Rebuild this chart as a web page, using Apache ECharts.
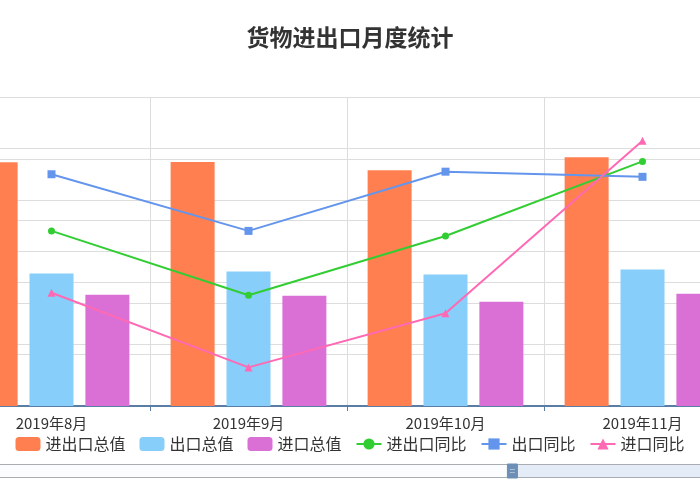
<!DOCTYPE html>
<html>
<head>
<meta charset="utf-8">
<title>货物进出口月度统计</title>
<script src="https://cdn.jsdelivr.net/npm/echarts@6/dist/echarts.min.js"></script>
<style>
  html, body { margin: 0; padding: 0; background: #fff; }
  #main { width: 700px; height: 500px; }
</style>
</head>
<body>
<div id="main"></div>
<script>
// 月份
var months = ['2019年8月', '2019年9月', '2019年10月', '2019年11月'];
// 总值(亿美元)
var totalValue = [3945, 3950, 3815, 4025];
var exportValue = [2143, 2175, 2127, 2208];
var importValue = [1802, 1786, 1688, 1818];
// 同比(%)
var totalYoy = [-3.2, -5.7, -3.4, -0.5];
var exportYoy = [-1.0, -3.2, -0.9, -1.1];
var importYoy = [-5.6, -8.5, -6.4, 0.3];

var chart = echarts.init(document.getElementById('main'));

// 滑块手柄
var handle = 'path://M0,0H10V14H0Z M2,4.5V6H8V4.5Z M2,8V9.5H8V8Z';

var option = {
    animation: false,
    textStyle: { fontFamily: 'Noto Sans CJK SC' },
    color: ['#ff7f50', '#87cefa', '#da70d6', '#32cd32', '#6495ed', '#ff69b4'],
    title: {
        text: '货物进出口月度统计',
        left: 'center',
        top: 21,
        textStyle: { fontSize: 23, fontWeight: 'bold', color: '#333' }
    },
    legend: {
        bottom: 43,
        left: 'center',
        itemWidth: 25,
        itemHeight: 14,
        itemGap: 14,
        textStyle: { fontSize: 16, color: '#333' },
        data: ['进出口总值', '出口总值', '进口总值', '进出口同比', '出口同比', '进口同比']
    },
    grid: { left: -47, right: -41, top: 97, bottom: 94, outerBoundsMode: 'none' },
    xAxis: [{
        type: 'category',
        data: months,
        axisLine: { lineStyle: { color: '#5a7da6', width: 2 } },
        axisTick: { show: true, length: 5, lineStyle: { color: '#5a7da6' } },
        axisLabel: { fontSize: 15, color: '#333', margin: 10 },
        splitLine: { show: true, lineStyle: { color: '#ddd' } }
    }, {
        // 只给滑块用
        type: 'value', show: false, min: 0, max: 100
    }],
    yAxis: [{
        type: 'value',
        min: 0, max: 5000, interval: 1000,
        axisLabel: { show: false },
        axisLine: { show: false },
        splitLine: { lineStyle: { color: '#ddd' } }
    }, {
        type: 'value',
        min: -10, max: 2, interval: 2,
        axisLabel: { show: false },
        axisLine: { show: false },
        splitLine: { lineStyle: { color: '#ddd' } }
    }],
    dataZoom: [{
        type: 'slider',
        xAxisIndex: 1,
        start: 67.8, end: 100,
        left: -100, right: -100,
        bottom: 22, height: 14,
        showDetail: false,
        showDataShadow: false,
        brushSelect: false,
        moveHandleSize: 0,
        borderRadius: 0,
        backgroundColor: '#fbfcfd',
        borderColor: '#a9acb0',
        fillerColor: '#e4edf7',
        handleIcon: handle,
        handleSize: '100%',
        handleStyle: { color: '#6d8fb6', borderColor: '#6d8fb6' }
    }],
    series: [
        { name: '进出口总值', type: 'bar', barWidth: 44, barGap: '27%', data: totalValue },
        { name: '出口总值', type: 'bar', barWidth: 44, data: exportValue },
        { name: '进口总值', type: 'bar', barWidth: 44, data: importValue },
        {
            name: '进出口同比', type: 'line', yAxisIndex: 1, symbol: 'circle', symbolSize: 7,
            lineStyle: { width: 2 }, data: totalYoy
        },
        {
            name: '出口同比', type: 'line', yAxisIndex: 1, symbol: 'rect', symbolSize: 8,
            lineStyle: { width: 2 }, data: exportYoy
        },
        {
            name: '进口同比', type: 'line', yAxisIndex: 1, symbol: 'triangle', symbolSize: 8,
            lineStyle: { width: 2 }, data: importYoy
        }
    ]
};

chart.setOption(option);
</script>
</body>
</html>
